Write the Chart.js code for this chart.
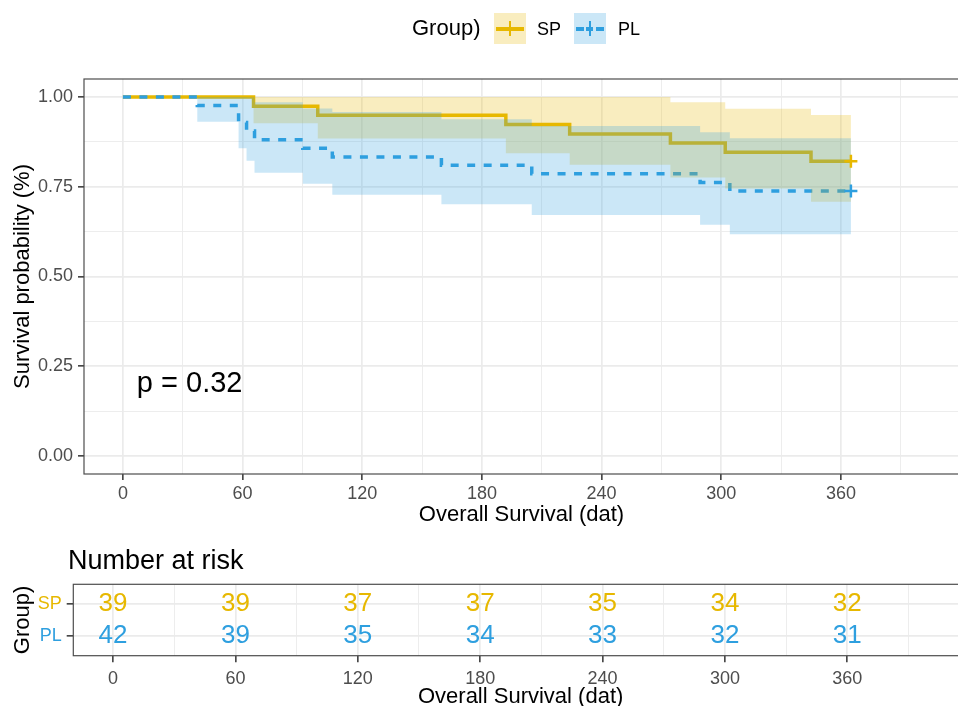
<!DOCTYPE html>
<html>
<head>
<meta charset="utf-8">
<script src="https://cdn.jsdelivr.net/npm/chart.js@4.4.1/dist/chart.umd.min.js"></script>
<style>
  html, body { margin: 0; padding: 0; background: #fff; }
  #page { position: relative; width: 958px; height: 706px; overflow: hidden; font-family: "Liberation Sans", Arial, sans-serif; color: #000; }
  #survChart { position: absolute; left: 0; top: 0; }
  #riskChart { position: absolute; left: 0; top: 540px; }
  .txt { position: absolute; white-space: nowrap; }
  .key { position: absolute; top: 13px; width: 32px; height: 31px; }
  .key .h { position: absolute; left: 2px; top: 13.5px; width: 28px; height: 4px; }
  .key .v { position: absolute; left: 14.8px; top: 8px; width: 2.4px; height: 15px; }
</style>
</head>
<body>
<div id="page">
  <canvas id="survChart" width="968" height="540"></canvas>
  <canvas id="riskChart" width="968" height="176"></canvas>

  <!-- legenda no topo, igual ao ggsurvplot -->
  <div class="txt" style="left:412px;top:15px;font-size:22px;line-height:26px;">Group)</div>
  <div class="key" style="left:494px;background:rgba(231,184,0,0.25);">
    <div class="h" style="background:#E7B800;"></div>
    <div class="v" style="background:#E7B800;"></div>
  </div>
  <div class="txt" style="left:537px;top:17.5px;font-size:18px;line-height:22px;">SP</div>
  <div class="key" style="left:574px;background:rgba(46,159,223,0.25);">
    <div class="h" style="background:linear-gradient(to right,#2E9FDF 0 8px,transparent 8px 10.5px,#2E9FDF 10.5px 17.5px,transparent 17.5px 20px,#2E9FDF 20px 28px);"></div>
    <div class="v" style="background:#2E9FDF;"></div>
  </div>
  <div class="txt" style="left:618px;top:17.5px;font-size:18px;line-height:22px;">PL</div>

  <div class="txt" style="left:68px;top:544px;font-size:27px;line-height:32px;">Number at risk</div>
</div>

<script>
Chart.defaults.font.family = '"Liberation Sans", Arial, sans-serif';

const spColor = "#E7B800";
const plColor = "#2E9FDF";
const spFill = "rgba(231, 184, 0, 0.25)";
const plFill = "rgba(46, 159, 223, 0.25)";

// curva de Kaplan-Meier do grupo SP (tempo em dias, sobrevida e IC 95%)
const spTime  = [0, 65.5, 97.7, 192, 224, 274.5, 302, 345, 365];
const spSurv  = [1, 0.974, 0.949, 0.923, 0.897, 0.872, 0.846, 0.821, 0.821];
const spUpper = [1, 1, 1, 1, 1, 0.985, 0.967, 0.950, 0.950];
const spLower = [1, 0.927, 0.884, 0.843, 0.811, 0.776, 0.745, 0.708, 0.708];

// grupo PL
const plTime  = [0, 37.3, 58, 62, 66, 90.2, 105, 159.7, 205, 289.4, 304.3, 365];
const plSurv  = [1, 0.976, 0.929, 0.905, 0.881, 0.857, 0.833, 0.810, 0.786, 0.762, 0.738, 0.738];
const plUpper = [1, 1, 1, 0.999, 0.985, 0.968, 0.958, 0.938, 0.919, 0.902, 0.885, 0.885];
const plLower = [1, 0.931, 0.857, 0.822, 0.789, 0.758, 0.728, 0.701, 0.671, 0.644, 0.618, 0.618];

// marcas de censura (+) no fim de cada curva
const spCensorTime = [365];
const spCensorSurv = [0.821];
const plCensorTime = [365];
const plCensorSurv = [0.738];

// tabela de número em risco
const riskGroups = ["SP", "PL"];
const riskTimes = [0, 60, 120, 180, 240, 300, 360];
const spRisk = [39, 39, 37, 37, 35, 34, 32];
const plRisk = [42, 39, 35, 34, 33, 32, 31];

const xTicks = [0, 30, 60, 90, 120, 150, 180, 210, 240, 270, 300, 330, 360, 390];
const yTicks = [0, 0.125, 0.25, 0.375, 0.5, 0.625, 0.75, 0.875, 1];
const pValueText = "p = 0.32";
const pValueAt = { x: 7, y: 0.2 };

const xMin = -19.5;
const xMax = 419.2;

const pts = (xs, ys) => xs.map((x, i) => ({ x, y: ys[i] }));

const isMajorX = (c) => c.tick && c.tick.value % 60 === 0;
const isMajorY = (c) => c.tick && Math.abs(c.tick.value * 4 - Math.round(c.tick.value * 4)) < 1e-9;

// moldura do painel (theme_bw)
const panelBorder = {
  id: "panelBorder",
  afterDatasetsDraw(chart) {
    const { ctx, chartArea: a } = chart;
    ctx.save();
    ctx.strokeStyle = "#4d4d4d";
    ctx.lineWidth = 1.2;
    ctx.strokeRect(a.left, a.top, a.right - a.left, a.bottom - a.top);
    ctx.restore();
  },
};

// texto do p-valor posicionado nas escalas do gráfico
const pValueLabel = {
  id: "pValueLabel",
  afterDatasetsDraw(chart) {
    const { ctx, scales } = chart;
    ctx.save();
    ctx.font = '29px "Liberation Sans", Arial, sans-serif';
    ctx.fillStyle = "#000";
    ctx.textAlign = "left";
    ctx.textBaseline = "middle";
    ctx.fillText(pValueText, scales.x.getPixelForValue(pValueAt.x), scales.y.getPixelForValue(pValueAt.y));
    ctx.restore();
  },
};

const noBand = "rgba(0,0,0,0)";

new Chart(document.getElementById("survChart"), {
  type: "line",
  data: {
    datasets: [
      { label: "SP +", data: pts(spCensorTime, spCensorSurv), showLine: false, pointStyle: "cross",
        pointRadius: 6.5, pointBorderWidth: 2.5, pointBorderColor: spColor, borderColor: spColor },
      { label: "PL +", data: pts(plCensorTime, plCensorSurv), showLine: false, pointStyle: "cross",
        pointRadius: 6.5, pointBorderWidth: 2.5, pointBorderColor: plColor, borderColor: plColor },
      { label: "PL upper", data: pts(plTime, plUpper), stepped: true, borderWidth: 0, borderColor: noBand,
        pointRadius: 0, fill: "+1", backgroundColor: plFill },
      { label: "PL lower", data: pts(plTime, plLower), stepped: true, borderWidth: 0, borderColor: noBand,
        pointRadius: 0, fill: false },
      { label: "SP upper", data: pts(spTime, spUpper), stepped: true, borderWidth: 0, borderColor: noBand,
        pointRadius: 0, fill: "+1", backgroundColor: spFill },
      { label: "SP lower", data: pts(spTime, spLower), stepped: true, borderWidth: 0, borderColor: noBand,
        pointRadius: 0, fill: false },
      { label: "PL", data: pts(plTime, plSurv), stepped: true, borderColor: plColor, borderWidth: 3.5,
        borderDash: [8, 8.5], borderCapStyle: "butt", pointRadius: 0, fill: false },
      { label: "SP", data: pts(spTime, spSurv), stepped: true, borderColor: spColor, borderWidth: 3.5,
        pointRadius: 0, fill: false },
    ],
  },
  options: {
    responsive: false,
    animation: false,
    events: [],
    layout: { padding: { top: 79, left: 0, right: 0, bottom: 0 } },
    plugins: { legend: { display: false }, tooltip: { enabled: false } },
    scales: {
      x: {
        type: "linear",
        min: xMin,
        max: xMax,
        afterBuildTicks: (s) => { s.ticks = xTicks.map((v) => ({ value: v })); },
        afterFit: (s) => { s.height = 66; },
        ticks: {
          autoSkip: false, maxRotation: 0, color: "#4D4D4D", font: { size: 18 }, padding: 3,
          callback: (v) => (v % 60 === 0 ? String(v) : ""),
        },
        grid: {
          color: "#EBEBEB",
          lineWidth: (c) => (isMajorX(c) ? 1.7 : 0.9),
          tickLength: 6,
          tickWidth: 1.5,
          tickColor: (c) => (isMajorX(c) ? "#333333" : "rgba(0,0,0,0)"),
        },
        border: { display: false },
        title: { display: true, text: "Overall Survival (dat)", color: "#000", font: { size: 22 },
                 padding: { top: 0, bottom: 12.3 } },
      },
      y: {
        min: -0.05,
        max: 1.05,
        afterBuildTicks: (s) => { s.ticks = yTicks.map((v) => ({ value: v })); },
        afterFit: (s) => { s.width = 84; },
        ticks: {
          autoSkip: false, color: "#4D4D4D", font: { size: 18 }, padding: 5,
          callback: (v) => (Math.abs(v * 4 - Math.round(v * 4)) < 1e-9 ? v.toFixed(2) : ""),
        },
        grid: {
          color: "#EBEBEB",
          lineWidth: (c) => (isMajorY(c) ? 1.7 : 0.9),
          tickLength: 6,
          tickWidth: 1.5,
          tickColor: (c) => (isMajorY(c) ? "#333333" : "rgba(0,0,0,0)"),
        },
        border: { display: false },
        title: { display: true, text: "Survival probability (%)", color: "#000", font: { size: 22 },
                 padding: { top: 10, bottom: 0 } },
      },
    },
  },
  plugins: [panelBorder, pValueLabel],
});

// números em risco desenhados na posição de cada ponto da escala
const riskLabels = {
  id: "riskLabels",
  afterDatasetsDraw(chart) {
    const { ctx } = chart;
    ctx.save();
    ctx.font = '26px "Liberation Sans", Arial, sans-serif';
    ctx.textAlign = "center";
    ctx.textBaseline = "middle";
    chart.data.datasets.forEach((ds, i) => {
      ctx.fillStyle = ds.textColor;
      chart.getDatasetMeta(i).data.forEach((pt, j) => {
        ctx.fillText(String(ds.counts[j]), pt.x, pt.y);
      });
    });
    ctx.restore();
  },
};

const rowOf = (name) => riskGroups.length - riskGroups.indexOf(name);
const rowColor = { SP: spColor, PL: plColor };

new Chart(document.getElementById("riskChart"), {
  type: "line",
  data: {
    datasets: [
      { label: "SP", data: riskTimes.map((t) => ({ x: t, y: rowOf("SP") })), counts: spRisk,
        textColor: spColor, showLine: false, pointRadius: 0 },
      { label: "PL", data: riskTimes.map((t) => ({ x: t, y: rowOf("PL") })), counts: plRisk,
        textColor: plColor, showLine: false, pointRadius: 0 },
    ],
  },
  options: {
    responsive: false,
    animation: false,
    events: [],
    layout: { padding: { top: 44.3, left: 0, right: 0, bottom: 0 } },
    plugins: { legend: { display: false }, tooltip: { enabled: false } },
    scales: {
      x: {
        type: "linear",
        min: xMin,
        max: xMax,
        afterBuildTicks: (s) => { s.ticks = xTicks.map((v) => ({ value: v })); },
        afterFit: (s) => { s.height = 60.3; },
        ticks: {
          autoSkip: false, maxRotation: 0, color: "#4D4D4D", font: { size: 18 }, padding: 5.5,
          callback: (v) => (v % 60 === 0 ? String(v) : ""),
        },
        grid: {
          color: "#EBEBEB",
          lineWidth: (c) => (isMajorX(c) ? 1.7 : 0.9),
          tickLength: 6.6,
          tickWidth: 1.5,
          tickColor: (c) => (isMajorX(c) ? "#333333" : "rgba(0,0,0,0)"),
        },
        border: { display: false },
        title: { display: true, text: "Overall Survival (dat)", color: "#000", font: { size: 22 },
                 padding: { top: 0, bottom: 5.8 } },
      },
      y: {
        min: 0.4,
        max: 2.6,
        afterBuildTicks: (s) => { s.ticks = riskGroups.map((g) => ({ value: rowOf(g) })); },
        afterFit: (s) => { s.width = 73.3; },
        ticks: {
          autoSkip: false, font: { size: 18 }, padding: 5,
          color: (c) => rowColor[riskGroups[riskGroups.length - c.tick.value]],
          callback: (v) => riskGroups[riskGroups.length - v],
        },
        grid: { color: "#EBEBEB", lineWidth: 1.7, tickLength: 6.6, tickWidth: 1.5, tickColor: "#333333" },
        border: { display: false },
        title: { display: true, text: "Group)", color: "#000", font: { size: 22 },
                 padding: { top: 10, bottom: 0 } },
      },
    },
  },
  plugins: [panelBorder, riskLabels],
});
</script>
</body>
</html>
